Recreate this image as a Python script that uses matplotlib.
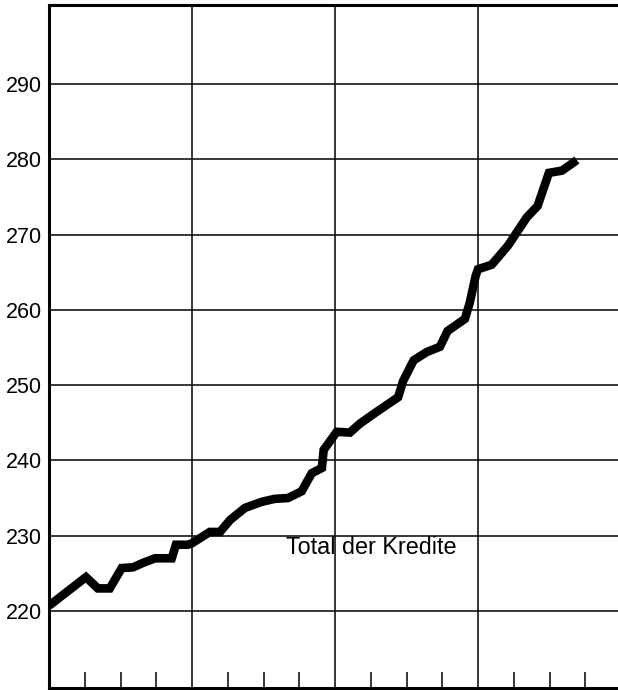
import matplotlib
matplotlib.use('Agg')
import matplotlib.pyplot as plt
from matplotlib.ticker import FixedLocator

# months since start of the first year
months = [0, 3.1, 4.1, 5.1, 6.1, 7.05, 7.9, 8.9, 10.3, 10.65, 11.65,
          12.0, 13.5, 14.35, 15.2, 16.45, 17.85, 18.95, 20.05, 21.2, 22.05, 22.9, 23.05,
          24.15, 25.25, 26.1, 27.35, 29.3, 29.7, 30.6, 31.7, 32.8, 33.45, 34.9, 35.3, 35.8,
          36.0, 37.15, 38.5, 40.1, 41.0, 41.95, 43.05, 44.3]
kredite = [220.7, 224.5, 223.0, 223.0, 225.7, 225.8, 226.4, 227.0, 227.0, 228.8, 228.8,
           229.0, 230.5, 230.5, 232.1, 233.7, 234.5, 234.9, 235.0, 235.9, 238.3, 239.0, 241.4,
           243.8, 243.7, 244.9, 246.3, 248.4, 250.5, 253.3, 254.4, 255.1, 257.2, 258.8, 260.9, 264.5,
           265.4, 266.0, 268.5, 272.3, 273.8, 278.2, 278.5, 279.9]
y_ticks = [220, 230, 240, 250, 260, 270, 280, 290]
year_lines = [12, 24, 36]
quarter_ticks = [3, 6, 9, 15, 18, 21, 27, 30, 33, 39, 42, 45]
label = 'Total der Kredite'

plt.rcParams['font.family'] = ['Liberation Sans', 'DejaVu Sans']

fig = plt.figure(figsize=(6.18, 6.9), dpi=100)
ax = fig.add_axes([49 / 618, 2 / 690, 572 / 618, 683 / 690])

ax.plot(months, kredite, color='black', linewidth=6.2,
        solid_joinstyle='miter', solid_capstyle='butt', zorder=3)

ax.set_xlim(0, 48)
ax.set_ylim(209.77, 300.5)

ax.set_yticks(y_ticks)
ax.set_yticklabels([str(v) for v in y_ticks], fontsize=15.5)
ax.tick_params(axis='y', length=0, pad=5)

ax.xaxis.set_major_locator(FixedLocator(year_lines))
ax.xaxis.set_minor_locator(FixedLocator(quarter_ticks))
ax.tick_params(axis='x', which='major', length=0, labelbottom=False)
ax.tick_params(axis='x', which='minor', direction='in', length=11.5, width=1.1, color='black')

ax.grid(True, which='major', color='black', linewidth=1.1)
ax.set_axisbelow(True)

for side in ['left', 'top', 'bottom']:
    ax.spines[side].set_linewidth(2.2)
    ax.spines[side].set_color('black')
ax.spines['right'].set_visible(False)

ax.text(19.9, 227.55, label, fontsize=16.8, ha='left', va='baseline', zorder=4)

fig.savefig('out.png', dpi=100)
